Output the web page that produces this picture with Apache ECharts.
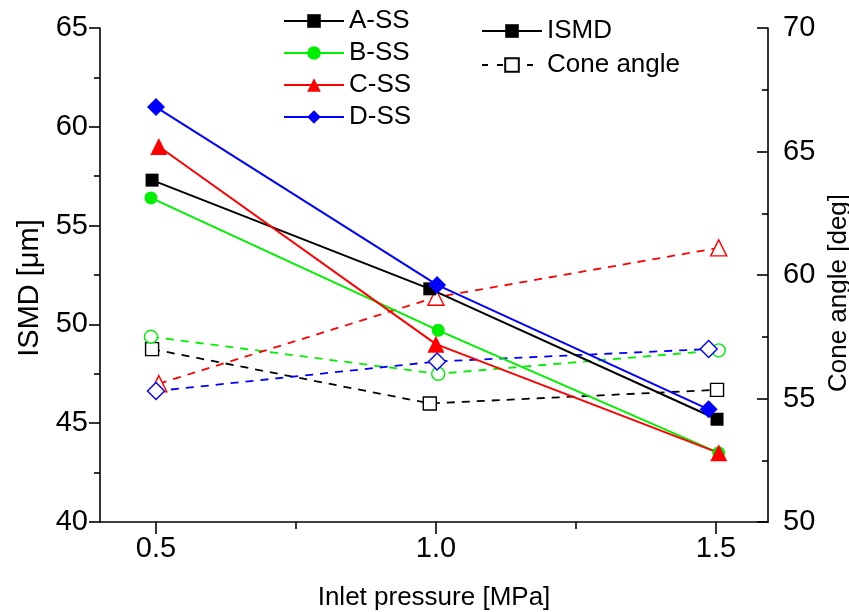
<!DOCTYPE html>
<html>
<head>
<meta charset="utf-8">
<script src="https://cdn.jsdelivr.net/npm/echarts@6/dist/echarts.min.js"></script>
<style>html,body{margin:0;padding:0;background:#fff;overflow:hidden}#c{width:849px;height:612px}</style>
</head>
<body>
<div id="c"></div>
<script>
// Samples and colours
var samples = ['A-SS', 'B-SS', 'C-SS', 'D-SS'];
var colors = ['#000000', '#00f000', '#ff0000', '#0000ff'];
var symbols = ['rect', 'circle', 'triangle', 'diamond'];
// Inlet pressure [MPa] (x positions as read, slightly offset per series)
var pressA = [0.493, 0.989, 1.502];
var pressB = [0.491, 1.004, 1.505];
var pressC = [0.505, 1.000, 1.505];
var pressD = [0.500, 1.002, 1.487];
// ISMD [um]
var ismdA = [57.3, 51.8, 45.2];
var ismdB = [56.4, 49.7, 43.5];
var ismdC = [59.0, 49.0, 43.5];
var ismdD = [61.0, 52.0, 45.7];
// Cone angle [deg]
var coneA = [57.0, 54.8, 55.35];
var coneB = [57.5, 56.0, 56.95];
var coneC = [55.6, 59.1, 61.1];
var coneD = [55.3, 56.5, 57.0];
// Tick labels
var xTicks = [0.5, 1.0, 1.5];
var xMinorTicks = [0.75, 1.25];

var press = [pressA, pressB, pressC, pressD];
var ismd = [ismdA, ismdB, ismdC, ismdD];
var cone = [coneA, coneB, coneC, coneD];

function pairs(xs, ys) { return xs.map(function (x, i) { return [x, ys[i]]; }); }

var FONT = 'Liberation Sans';
var FS = 26;
var TFS = 29;
var series = [];
for (var i = 0; i < 4; i++) {
  series.push({
    name: samples[i] + ' cone', type: 'line', yAxisIndex: 1, xAxisIndex: 0,
    data: pairs(press[i], cone[i]),
    symbol: symbols[i], symbolSize: symbols[i] === 'diamond' ? 17 : (symbols[i] === 'triangle' ? 16 : 13),
    lineStyle: { color: colors[i], width: 1.8, type: [8, 7] },
    itemStyle: { color: '#ffffff', borderColor: colors[i], borderWidth: 1.4 },
    showSymbol: true, z: 2, animation: false
  });
}
for (var j = 0; j < 4; j++) {
  series.push({
    name: samples[j], type: 'line', yAxisIndex: 0, xAxisIndex: 0,
    data: pairs(press[j], ismd[j]),
    symbol: symbols[j], symbolSize: symbols[j] === 'diamond' ? 18 : (symbols[j] === 'triangle' ? 17 : 13),
    lineStyle: { color: colors[j], width: 2 },
    itemStyle: { color: colors[j], borderWidth: 0 },
    z: 3, animation: false
  });
}
series.push({
  name: 'ISMD', type: 'line', data: [], symbol: 'rect', symbolSize: 12,
  lineStyle: { color: '#000', width: 2 }, itemStyle: { color: '#000' }
});
series.push({
  name: 'Cone angle', type: 'line', data: [], symbol: 'rect', symbolSize: 12,
  lineStyle: { color: '#000', width: 1.5, type: [6, 9] },
  itemStyle: { color: '#fff', borderColor: '#000', borderWidth: 1.3 }
});

var chart = echarts.init(document.getElementById('c'), null, { renderer: 'canvas' });
chart.setOption({
  animation: false,
  backgroundColor: '#ffffff',
  textStyle: { fontFamily: FONT },
  grid: { left: 100, right: 81, top: 28, bottom: 90, containLabel: false, outerBoundsMode: 'none' },
  legend: [
    {
      data: samples, orient: 'vertical', left: 278, top: 3,
      itemWidth: 60, itemHeight: 17, itemGap: 6,
      textStyle: { fontSize: FS, color: '#000', fontFamily: FONT }
    },
    {
      data: ['ISMD', 'Cone angle'], orient: 'vertical', left: 476, top: 13,
      itemWidth: 60, itemHeight: 17, itemGap: 8,
      textStyle: { fontSize: FS, color: '#000', fontFamily: FONT }
    }
  ],
  xAxis: [
    {
      type: 'value', min: 0.4, max: 1.593, position: 'bottom',
      name: 'Inlet pressure [MPa]', nameLocation: 'middle', nameGap: 63,
      nameTextStyle: { fontSize: FS, color: '#000', fontFamily: FONT },
      axisLine: { show: true, lineStyle: { color: '#000', width: 1.6 } },
      axisTick: { show: true, customValues: xTicks, length: 12, lineStyle: { color: '#000', width: 1.6 } },
      axisLabel: { show: true, customValues: xTicks, fontSize: TFS, color: '#000', fontFamily: FONT, margin: 12,
        formatter: function (v) { return v.toFixed(1); } },
      splitLine: { show: false }
    },
    {
      type: 'value', min: 0.4, max: 1.593, position: 'bottom',
      axisLine: { show: false },
      axisTick: { show: true, customValues: xMinorTicks, length: 7, lineStyle: { color: '#000', width: 1.6 } },
      axisLabel: { show: false }, splitLine: { show: false }
    }
  ],
  yAxis: [
    {
      type: 'value', min: 40, max: 65, interval: 5, position: 'left',
      name: 'ISMD [\u03bcm]', nameLocation: 'middle', nameGap: 54, nameRotate: 90,
      nameTextStyle: { fontSize: 29, color: '#000', fontFamily: FONT, padding: [0, 26, 0, 0] },
      axisLine: { show: true, lineStyle: { color: '#000', width: 1.6 } },
      axisTick: { show: true, length: 11, lineStyle: { color: '#000', width: 1.6 } },
      minorTick: { show: true, splitNumber: 2, length: 6, lineStyle: { color: '#000', width: 1.6 } },
      axisLabel: { fontSize: TFS, color: '#000', fontFamily: FONT, margin: 12 },
      splitLine: { show: false }
    },
    {
      type: 'value', min: 50, max: 70, interval: 5, position: 'right',
      name: 'Cone angle [deg]', nameLocation: 'middle', nameGap: 51, nameRotate: 90,
      nameTextStyle: { fontSize: FS, color: '#000', fontFamily: FONT, padding: [0, 36, 0, 0] },
      axisLine: { show: true, lineStyle: { color: '#000', width: 1.6 } },
      axisTick: { show: true, inside: true, length: 11, lineStyle: { color: '#000', width: 1.6 } },
      minorTick: { show: true, splitNumber: 2, length: 6, lineStyle: { color: '#000', width: 1.6 } },
      axisLabel: { fontSize: TFS, color: '#000', fontFamily: FONT, margin: 15 },
      splitLine: { show: false }
    }
  ],
  series: series
});
</script>
</body>
</html>
